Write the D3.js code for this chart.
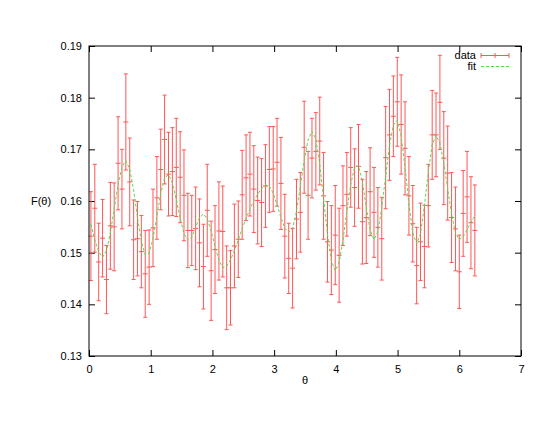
<!DOCTYPE html>
<html>
<head>
<meta charset="utf-8">
<script src="https://cdn.jsdelivr.net/npm/d3@7"></script>
<style>
  body { margin: 0; background: #fff; }
  svg text { font-family: "Liberation Sans", Arial, sans-serif; font-size: 11px; fill: #000; }
  .axis path { display: none; }
  .axis line { stroke: #000; }
</style>
</head>
<body>
<svg id="chart" width="554" height="428"></svg>
<script>
// sample angles
var theta = [0.031, 0.094, 0.157, 0.220, 0.283, 0.346, 0.408, 0.471, 0.534, 0.597,
    0.660, 0.723, 0.785, 0.848, 0.911, 0.974, 1.037, 1.100, 1.162, 1.225,
    1.288, 1.351, 1.414, 1.477, 1.539, 1.602, 1.665, 1.728, 1.791, 1.854,
    1.916, 1.979, 2.042, 2.105, 2.168, 2.231, 2.293, 2.356, 2.419, 2.482,
    2.545, 2.608, 2.670, 2.733, 2.796, 2.859, 2.922, 2.985, 3.047, 3.110,
    3.173, 3.236, 3.299, 3.362, 3.424, 3.487, 3.550, 3.613, 3.676, 3.739,
    3.801, 3.864, 3.927, 3.990, 4.053, 4.115, 4.178, 4.241, 4.304, 4.367,
    4.430, 4.492, 4.555, 4.618, 4.681, 4.744, 4.807, 4.869, 4.932, 4.995,
    5.058, 5.121, 5.184, 5.246, 5.309, 5.372, 5.435, 5.498, 5.561, 5.623,
    5.686, 5.749, 5.812, 5.875, 5.938, 6.000, 6.063, 6.126, 6.189, 6.252];

// measured F(theta)
var fData = [0.1532, 0.1586, 0.1482, 0.1528, 0.1448, 0.1552, 0.1550, 0.1673, 0.1623, 0.1753,
    0.1637, 0.1525, 0.1527, 0.1502, 0.1459, 0.1472, 0.1548, 0.1606, 0.1661, 0.1719,
    0.1652, 0.1657, 0.1665, 0.1646, 0.1611, 0.1543, 0.1543, 0.1547, 0.1519, 0.1473,
    0.1582, 0.1465, 0.1506, 0.1542, 0.1541, 0.1432, 0.1432, 0.1513, 0.1526, 0.1612,
    0.1645, 0.1652, 0.1623, 0.1601, 0.1597, 0.1629, 0.1661, 0.1662, 0.1675, 0.1634,
    0.1532, 0.1489, 0.1470, 0.1565, 0.1578, 0.1704, 0.1611, 0.1683, 0.1696, 0.1716,
    0.1610, 0.1521, 0.1505, 0.1534, 0.1495, 0.1591, 0.1613, 0.1665, 0.1626, 0.1667,
    0.1560, 0.1568, 0.1618, 0.1578, 0.1549, 0.1527, 0.1684, 0.1728, 0.1764, 0.1792,
    0.1748, 0.1702, 0.1610, 0.1556, 0.1475, 0.1521, 0.1512, 0.1591, 0.1728, 0.1728,
    0.1791, 0.1683, 0.1654, 0.1568, 0.1546, 0.1463, 0.1576, 0.1608, 0.1558, 0.1543];

// error (half length of the bar)
var fErr = [0.0086, 0.0085, 0.0075, 0.0075, 0.0066, 0.0084, 0.0085, 0.0090, 0.0077, 0.0093,
    0.0085, 0.0077, 0.0072, 0.0070, 0.0084, 0.0072, 0.0075, 0.0080, 0.0078, 0.0086,
    0.0081, 0.0085, 0.0095, 0.0088, 0.0088, 0.0072, 0.0068, 0.0080, 0.0085, 0.0082,
    0.0089, 0.0096, 0.0085, 0.0095, 0.0088, 0.0081, 0.0072, 0.0081, 0.0074, 0.0086,
    0.0083, 0.0081, 0.0084, 0.0084, 0.0085, 0.0080, 0.0083, 0.0082, 0.0085, 0.0089,
    0.0081, 0.0068, 0.0077, 0.0077, 0.0077, 0.0089, 0.0085, 0.0077, 0.0075, 0.0085,
    0.0084, 0.0078, 0.0086, 0.0096, 0.0091, 0.0077, 0.0081, 0.0077, 0.0075, 0.0081,
    0.0082, 0.0089, 0.0085, 0.0087, 0.0077, 0.0080, 0.0099, 0.0088, 0.0078, 0.0086,
    0.0096, 0.0090, 0.0076, 0.0074, 0.0074, 0.0075, 0.0080, 0.0080, 0.0086, 0.0081,
    0.0091, 0.0090, 0.0091, 0.0087, 0.0081, 0.0071, 0.0083, 0.0088, 0.0089, 0.0088];

// fitted curve at the same angles
var fFit = [0.1555, 0.1525, 0.1502, 0.1491, 0.1504, 0.1538, 0.1585, 0.1631, 0.1666, 0.1678,
    0.1662, 0.1621, 0.1569, 0.1522, 0.1496, 0.1499, 0.1527, 0.1571, 0.1615, 0.1645,
    0.1651, 0.1635, 0.1603, 0.1567, 0.1537, 0.1524, 0.1530, 0.1549, 0.1568, 0.1575,
    0.1566, 0.1542, 0.1512, 0.1485, 0.1471, 0.1474, 0.1486, 0.1504, 0.1525, 0.1547,
    0.1566, 0.1585, 0.1600, 0.1613, 0.1624, 0.1631, 0.1629, 0.1615, 0.1593, 0.1568,
    0.1548, 0.1539, 0.1547, 0.1580, 0.1628, 0.1679, 0.1718, 0.1735, 0.1720, 0.1671,
    0.1605, 0.1536, 0.1484, 0.1465, 0.1481, 0.1524, 0.1580, 0.1632, 0.1666, 0.1668,
    0.1637, 0.1588, 0.1544, 0.1525, 0.1541, 0.1587, 0.1648, 0.1707, 0.1747, 0.1756,
    0.1726, 0.1665, 0.1594, 0.1539, 0.1517, 0.1537, 0.1591, 0.1656, 0.1709, 0.1727,
    0.1712, 0.1674, 0.1624, 0.1575, 0.1538, 0.1525, 0.1531, 0.1545, 0.1559, 0.1571];

var xTicks = [0, 1, 2, 3, 4, 5, 6, 7];
var yTicks = [0.13, 0.14, 0.15, 0.16, 0.17, 0.18, 0.19];

(function () {
    var plotLeft = 89, plotRight = 521, plotTop = 46, plotBottom = 356;
    var barColor = "#ff5656";
    var fitColor = "#4fe04f";

    var svg = d3.select("#chart");

    var x = d3.scaleLinear().domain([0, 7]).range([plotLeft, plotRight]);
    var y = d3.scaleLinear().domain([0.13, 0.19]).range([plotBottom, plotTop]);

    var points = theta.map(function (t, i) {
        return { t: t, v: fData[i], e: fErr[i], fit: fFit[i] };
    });

    // axes, ticks pointing inward, mirrored on top/right
    svg.append("g")
        .attr("class", "axis")
        .attr("transform", "translate(0," + plotBottom + ")")
        .call(d3.axisBottom(x).tickValues(xTicks).tickFormat(d3.format("d")).tickSize(-6).tickPadding(9));

    svg.append("g")
        .attr("class", "axis")
        .attr("transform", "translate(0," + plotTop + ")")
        .call(d3.axisTop(x).tickValues(xTicks).tickFormat("").tickSize(-6));

    svg.append("g")
        .attr("class", "axis")
        .attr("transform", "translate(" + plotLeft + ",0)")
        .call(d3.axisLeft(y).tickValues(yTicks).tickFormat(d3.format(".2f")).tickSize(-6).tickPadding(7));

    svg.append("g")
        .attr("class", "axis")
        .attr("transform", "translate(" + plotRight + ",0)")
        .call(d3.axisRight(y).tickValues(yTicks).tickFormat("").tickSize(-6));

    // error bars
    var bars = svg.append("g").attr("stroke", barColor).attr("stroke-width", 1);

    bars.selectAll(".bar")
        .data(points)
        .enter()
        .append("line")
        .attr("x1", function (d) { return x(d.t); })
        .attr("x2", function (d) { return x(d.t); })
        .attr("y1", function (d) { return y(d.v - d.e); })
        .attr("y2", function (d) { return y(d.v + d.e); });

    // caps top and bottom
    bars.selectAll(".capTop")
        .data(points)
        .enter()
        .append("line")
        .attr("x1", function (d) { return x(d.t) - 2; })
        .attr("x2", function (d) { return x(d.t) + 2; })
        .attr("y1", function (d) { return y(d.v + d.e); })
        .attr("y2", function (d) { return y(d.v + d.e); });

    bars.selectAll(".capBot")
        .data(points)
        .enter()
        .append("line")
        .attr("x1", function (d) { return x(d.t) - 2; })
        .attr("x2", function (d) { return x(d.t) + 2; })
        .attr("y1", function (d) { return y(d.v - d.e); })
        .attr("y2", function (d) { return y(d.v - d.e); });

    // centre marks
    bars.selectAll(".mark")
        .data(points)
        .enter()
        .append("line")
        .attr("x1", function (d) { return x(d.t) - 2.5; })
        .attr("x2", function (d) { return x(d.t) + 2.5; })
        .attr("y1", function (d) { return y(d.v); })
        .attr("y2", function (d) { return y(d.v); });

    // fit line
    var line = d3.line()
        .x(function (d) { return x(d.t); })
        .y(function (d) { return y(d.fit); });

    svg.append("path")
        .datum(points)
        .attr("d", line)
        .attr("fill", "none")
        .attr("stroke", fitColor)
        .attr("stroke-width", 1)
        .attr("stroke-dasharray", "3,2");

    // frame
    svg.append("rect")
        .attr("x", plotLeft)
        .attr("y", plotTop)
        .attr("width", plotRight - plotLeft)
        .attr("height", plotBottom - plotTop)
        .attr("fill", "none")
        .attr("stroke", "#000")
        .attr("stroke-width", 1);

    // axis labels
    svg.append("text")
        .attr("x", 41)
        .attr("y", 205)
        .attr("text-anchor", "middle")
        .text("F(θ)");

    svg.append("text")
        .attr("x", x(3.5))
        .attr("y", 384)
        .attr("text-anchor", "middle")
        .text("θ");

    // legend
    var lx1 = 481, lx2 = 509;
    svg.append("text").attr("x", 476).attr("y", 58.5).attr("text-anchor", "end").text("data");
    var leg = svg.append("g").attr("stroke", barColor).attr("stroke-width", 1);
    leg.append("line").attr("x1", lx1).attr("x2", lx2).attr("y1", 55.5).attr("y2", 55.5);
    leg.append("line").attr("x1", lx1).attr("x2", lx1).attr("y1", 53).attr("y2", 58);
    leg.append("line").attr("x1", lx2).attr("x2", lx2).attr("y1", 53).attr("y2", 58);
    leg.append("line").attr("x1", (lx1 + lx2) / 2).attr("x2", (lx1 + lx2) / 2).attr("y1", 53).attr("y2", 58);

    svg.append("text").attr("x", 476).attr("y", 70).attr("text-anchor", "end").text("fit");
    svg.append("line")
        .attr("x1", lx1).attr("x2", lx2).attr("y1", 66.5).attr("y2", 66.5)
        .attr("stroke", fitColor).attr("stroke-dasharray", "3,2");
})();
</script>
</body>
</html>
